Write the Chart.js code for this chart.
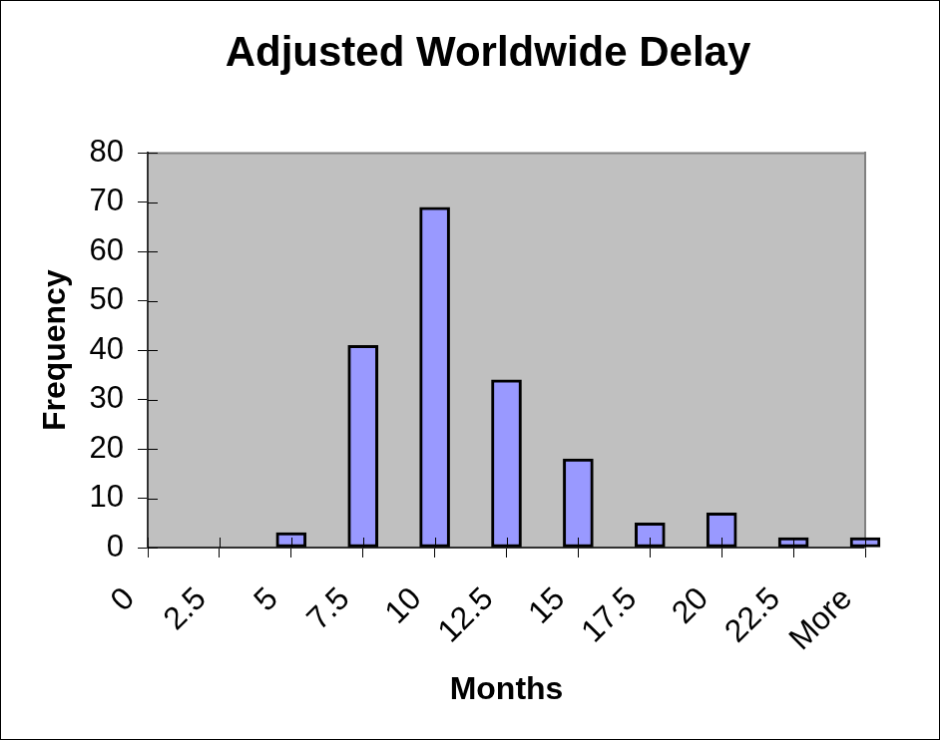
<!DOCTYPE html>
<html>
<head>
<meta charset="utf-8">
<title>Adjusted Worldwide Delay</title>
<script src="https://cdn.jsdelivr.net/npm/chart.js@4.4.1/dist/chart.umd.min.js"></script>
<style>
  body { margin: 0; background: #fff; }
  #chart { display: block; border: 1px solid #000; }
</style>
</head>
<body>
<canvas id="chart" width="940" height="740"></canvas>
<script>
// -------- DATA --------
const months = ["0", "2.5", "5", "7.5", "10", "12.5", "15", "17.5", "20", "22.5", "More"];
const frequency = [0, 0, 3, 41, 69, 34, 18, 5, 7, 2, 2];
const yMin = 0;
const yMax = 80;
const yStep = 10;

const FONT = "'Liberation Sans', Arial, Helvetica, sans-serif";
Chart.defaults.font.family = FONT;
Chart.defaults.color = "#000";

// -------- PLUGINS --------
// fondo gris del area de trazado + borde superior
const plotArea = {
  id: "plotArea",
  beforeDraw(chart) {
    const { ctx, chartArea: a } = chart;
    ctx.save();
    ctx.fillStyle = "#c0c0c0";
    ctx.fillRect(a.left, a.top, a.right - a.left, a.bottom - a.top);
    ctx.strokeStyle = "#808080";
    ctx.lineWidth = 2;
    ctx.beginPath();
    ctx.moveTo(a.left, a.top);
    ctx.lineTo(a.right, a.top);
    ctx.stroke();
    ctx.restore();
  }
};

// marcas que cruzan el eje (parte interior)
const innerTicks = {
  id: "innerTicks",
  afterDatasetsDraw(chart) {
    const { ctx, chartArea: a, scales } = chart;
    ctx.save();
    ctx.strokeStyle = "#000";
    ctx.lineWidth = 1;
    ctx.beginPath();
    scales.x.ticks.forEach((t, i) => {
      const x = Math.round(scales.x.getPixelForTick(i)) + 0.5;
      ctx.moveTo(x, a.bottom - 10);
      ctx.lineTo(x, a.bottom);
    });
    scales.y.ticks.forEach((t, i) => {
      const y = Math.round(scales.y.getPixelForTick(i)) + 0.5;
      ctx.moveTo(a.left, y);
      ctx.lineTo(a.left + 10, y);
    });
    ctx.stroke();
    ctx.restore();
  }
};

// -------- CHART --------
const ctx = document.getElementById("chart");

new Chart(ctx, {
  type: "bar",
  data: {
    labels: months,
    datasets: [{
      label: "Frequency",
      data: frequency,
      backgroundColor: "#9999ff",
      borderColor: "#000",
      borderWidth: 3,
      borderSkipped: false,
      barThickness: 30,
      clip: false
    }]
  },
  options: {
    responsive: false,
    animation: false,
    devicePixelRatio: 1,
    layout: { padding: { left: 36, right: 0, top: 0, bottom: 0 } },
    plugins: {
      legend: { display: false },
      tooltip: { enabled: false },
      title: {
        display: true,
        text: "Adjusted Worldwide Delay",
        color: "#000",
        font: { size: 42, weight: "bold" },
        padding: { top: 28, bottom: 74 }
      }
    },
    scales: {
      x: {
        offset: false,
        grid: { offset: false, drawOnChartArea: false, tickLength: 10, color: "#000" },
        border: { color: "#303030", width: 2 },
        ticks: {
          autoSkip: false,
          minRotation: 45,
          maxRotation: 45,
          labelOffset: -18,
          padding: 23,
          font: { size: 32 }
        },
        title: {
          display: true,
          text: "Months",
          font: { size: 32, weight: "bold" },
          padding: { top: 0, bottom: 30 }
        },
        afterFit(s) { s.height = 192; }
      },
      y: {
        min: yMin,
        max: yMax,
        grid: { drawOnChartArea: false, tickLength: 10, color: "#000" },
        border: { color: "#303030", width: 2 },
        ticks: { stepSize: yStep, padding: 14, font: { size: 31 } },
        title: {
          display: true,
          text: "Frequency",
          font: { size: 32, weight: "bold" },
          padding: { top: 0, bottom: 0 }
        },
        afterFit(s) { s.width = 111; }
      },
      y2: {
        position: "right",
        display: true,
        min: yMin,
        max: yMax,
        grid: { display: false },
        ticks: { display: false },
        border: { color: "#808080", width: 2 },
        afterFit(s) { s.width = 74; }
      }
    }
  },
  plugins: [plotArea, innerTicks]
});
</script>
</body>
</html>
